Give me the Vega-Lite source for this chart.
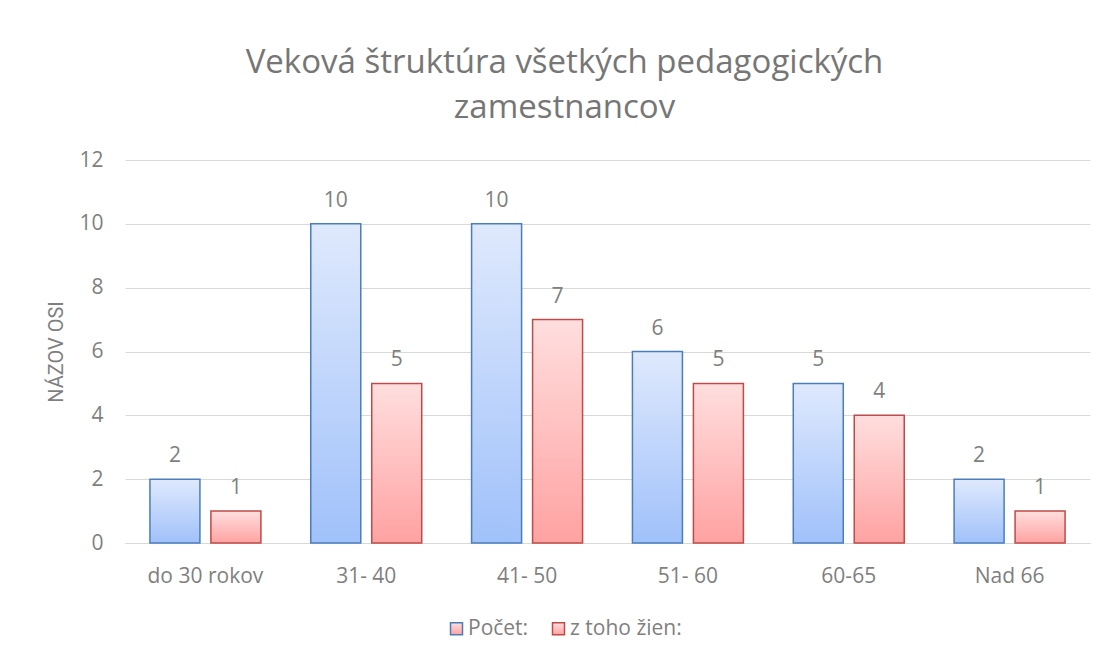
{
  "$schema": "https://vega.github.io/schema/vega-lite/v6.json",
  "width": 965,
  "height": 383,
  "autosize": {"type": "none"},
  "padding": {"left": 125, "top": 160, "right": 15, "bottom": 114},
  "background": "white",
  "config": {
    "view": {"stroke": null},
    "font": "Open Sans",
    "axis": {"labelFont": "Open Sans", "titleFont": "Open Sans", "labelColor": "#7f7f7f", "titleColor": "#7f7f7f"}
  },
  "title": {
    "text": ["Veková štruktúra všetkých pedagogických", "zamestnancov"],
    "anchor": "middle",
    "font": "Open Sans",
    "fontSize": 33,
    "fontWeight": "normal",
    "color": "#767676",
    "lineHeight": 45,
    "dx": -43,
    "offset": 24
  },
  "data": {
    "values": [
      {"group": "do 30 rokov", "series": "Počet:", "value": 2},
      {"group": "do 30 rokov", "series": "z toho žien:", "value": 1},
      {"group": "31- 40", "series": "Počet:", "value": 10},
      {"group": "31- 40", "series": "z toho žien:", "value": 5},
      {"group": "41- 50", "series": "Počet:", "value": 10},
      {"group": "41- 50", "series": "z toho žien:", "value": 7},
      {"group": "51- 60", "series": "Počet:", "value": 6},
      {"group": "51- 60", "series": "z toho žien:", "value": 5},
      {"group": "60-65", "series": "Počet:", "value": 5},
      {"group": "60-65", "series": "z toho žien:", "value": 4},
      {"group": "Nad 66", "series": "Počet:", "value": 2},
      {"group": "Nad 66", "series": "z toho žien:", "value": 1}
    ]
  },
  "encoding": {
    "x": {
      "field": "group", "type": "nominal", "sort": null,
      "scale": {"paddingInner": 0.31, "paddingOuter": 0.155},
      "axis": {"title": null, "labelAngle": 0, "labelFontSize": 21, "labelPadding": 22, "ticks": false, "domain": true, "domainColor": "#d9d9d9", "domainWidth": 1}
    },
    "xOffset": {"field": "series", "type": "nominal", "scale": {"paddingInner": 0.18}},
    "y": {
      "field": "value", "type": "quantitative",
      "scale": {"domain": [0, 12]},
      "axis": {"title": "NÁZOV OSI", "titleFont": "Roboto", "titleFontSize": 20, "titleFontWeight": "normal", "titlePadding": 12, "labelFontSize": 21, "labelPadding": 22, "labelOverlap": false, "values": [0, 2, 4, 6, 8, 10, 12], "domain": false, "ticks": false, "gridColor": "#d9d9d9", "gridWidth": 1}
    }
  },
  "layer": [
    {
      "mark": {"type": "bar", "strokeWidth": 1.5},
      "encoding": {
        "stroke": {
          "field": "series", "type": "nominal",
          "scale": {"domain": ["Počet:", "z toho žien:"], "range": ["#4a7ebb", "#be4b48"]},
          "legend": {
            "title": null, "orient": "none", "direction": "horizontal",
            "legendX": 321, "legendY": 458,
            "symbolType": "square", "symbolSize": 144, "symbolStrokeWidth": 1.5,
            "labelFontSize": 21, "labelColor": "#7f7f7f", "labelFont": "Open Sans", "labelOffset": 1,
            "columnPadding": 19,
            "encode": {"symbols": {"update": {"fill": {"signal": "datum.value == 'Počet:' ? '#c4d8fb' : '#fcc4c4'"}}}}
          }
        },
        "fill": {
          "condition": {
            "test": "datum.series == 'Počet:'",
            "value": {"gradient": "linear", "x1": 0, "y1": 0, "x2": 0, "y2": 1, "stops": [{"offset": 0, "color": "#dfe9fd"}, {"offset": 1, "color": "#a0c1fa"}]}
          },
          "value": {"gradient": "linear", "x1": 0, "y1": 0, "x2": 0, "y2": 1, "stops": [{"offset": 0, "color": "#ffdede"}, {"offset": 1, "color": "#ffa2a2"}]}
        }
      }
    },
    {
      "mark": {"type": "text", "baseline": "bottom", "dy": -13, "fontSize": 21, "color": "#7f7f7f", "font": "Open Sans"},
      "encoding": {"text": {"field": "value", "type": "quantitative"}}
    }
  ]
}
